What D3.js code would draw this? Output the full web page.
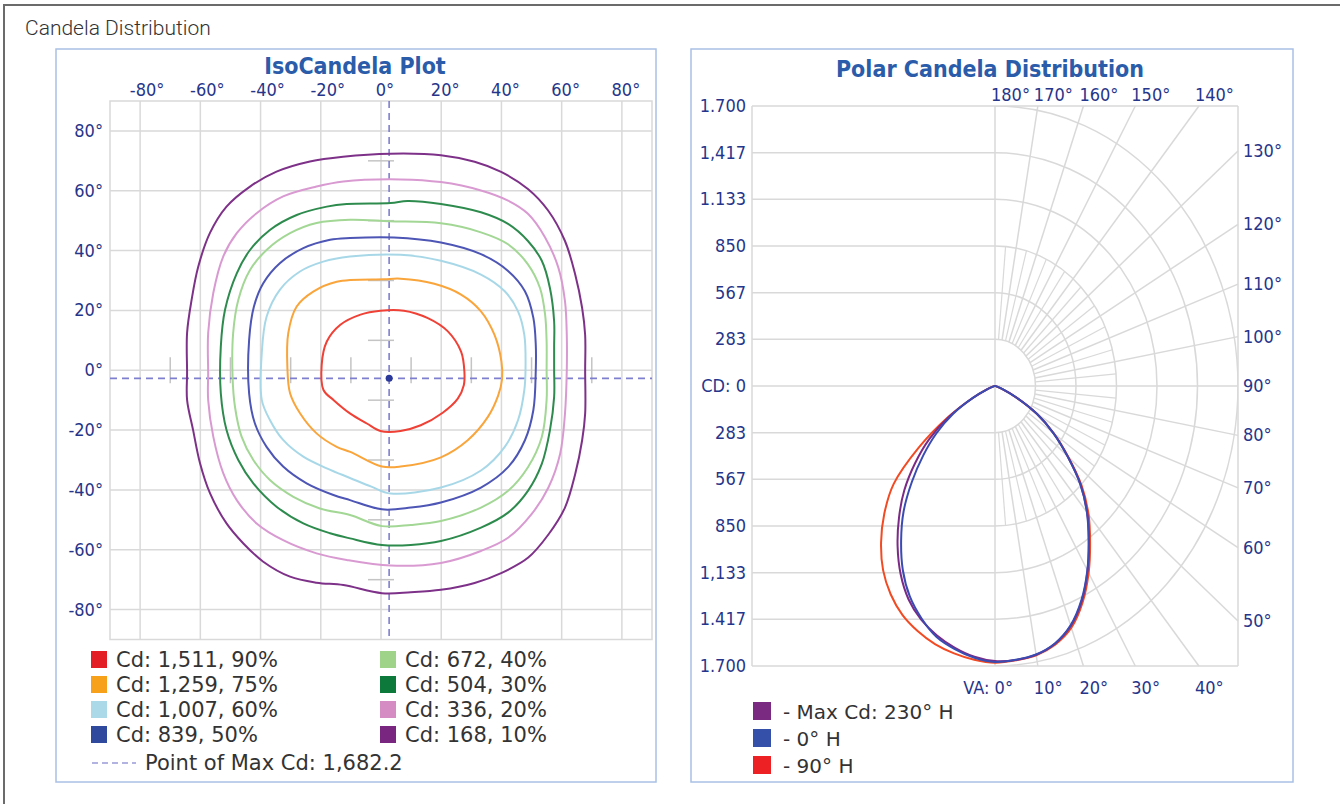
<!DOCTYPE html>
<html>
<head>
<meta charset="utf-8">
<script src="https://cdn.jsdelivr.net/npm/d3@7/dist/d3.min.js"></script>
<style>
body { margin: 0; background: #fff; }
</style>
</head>
<body>
<script>

// ---------- IsoCandela data (horizontal deg, vertical deg) ----------
var isoTicks = [-80, -60, -40, -20, 0, 20, 40, 60, 80];
var isoAxisMarks = [-70, -50, -30, -10, 10, 30, 50, 70];
var maxPoint = [2.7, -2.7];

var isoLabels = ["Cd: 1,511, 90%", "Cd: 1,259, 75%", "Cd: 1,007, 60%", "Cd: 839, 50%",
                 "Cd: 672, 40%", "Cd: 504, 30%", "Cd: 336, 20%", "Cd: 168, 10%"];
var maxLabel = "Point of Max Cd: 1,682.2";

var iso90 = [[27.7,-0.5],[26.6,6.2],[22.2,13],[15.4,17.5],[7.6,19.9],[-0.2,19.9],[-6.8,18.6],[-13.5,15.2],[-18,9.6],[-19.7,1.8],
             [-19.1,-6.6],[-15.7,-10],[-10.2,-14.5],[-4.7,-17.8],[-0.2,-20.3],[6.5,-20.3],[13.2,-18.4],[20.5,-14.2],[25.5,-9.5],[27.5,-5]];
var iso75 = [[40,2.9],[37.7,11.8],[33.2,19.7],[26.6,25.3],[17.7,28.9],[6.5,30.6],[1,30.4],[-14.7,29.6],[-22.5,26.3],[-28,21.3],
             [-30.8,12.4],[-31.1,1.2],[-30.2,-7.7],[-26.9,-14.4],[-21.4,-21.1],[-14.7,-25.6],[-10.2,-27.3],[0.3,-32.2],[6.5,-32.2],
             [19.9,-29.1],[28.8,-23.4],[35.5,-15.6],[38.9,-8.5],[40.2,-3]];
var iso60 = [[48,0.6],[47.6,11.8],[45.5,19.7],[41.1,26.4],[33.2,32],[19.9,36.6],[6.5,38.6],[-10.3,38],[-19.2,36.3],[-26.9,33],
             [-33.6,26.9],[-38,17.9],[-39.6,5.7],[-39.6,-9.9],[-36.9,-16.6],[-32.5,-23.3],[-25.8,-28.9],[-18,-32.8],[-10.3,-36],
             [-3,-39],[3.2,-41.2],[19.9,-39.2],[33.2,-33.5],[41.1,-25.6],[45.5,-16.7],[47.6,-6.6]];
var iso50 = [[51.4,0],[51.4,8.5],[50.6,17.5],[47.8,26.4],[42.2,33.2],[33.2,38.8],[19.9,42.7],[4.3,44.4],[-10.3,44.2],[-16.9,43.6],
             [-25.8,40.8],[-33.6,35.8],[-39.1,29.1],[-42.2,21.3],[-43.8,10.1],[-43.8,-7.7],[-41.9,-17.7],[-38,-25.6],[-32.5,-32.2],
             [-24.7,-37.8],[-15.8,-41.7],[-10.3,-43.4],[0.3,-46.5],[9.9,-45.9],[19.9,-44.2],[33.2,-39.2],[42.2,-32.4],[47.8,-23.4],[50.6,-13.3]];
var iso40 = [[55,0],[55,9.6],[54.5,18.6],[52.8,27.5],[48.8,35.4],[42.2,42.1],[33.2,46.1],[19.9,49.1],[2.7,49.8],[-10.3,50.3],
             [-21.4,49.2],[-30.2,45.8],[-38,40.2],[-43.5,33.5],[-47.4,23.5],[-49.1,12.4],[-49.3,-2.1],[-48.5,-12.2],[-46.3,-22.2],
             [-42.4,-30],[-36.9,-36.7],[-29.1,-42.3],[-20.3,-46.2],[-10.3,-48.4],[0.3,-52.1],[9.9,-51.7],[19.9,-50.4],[33.2,-45.9],
             [42.2,-40.3],[48.8,-32.4],[53.4,-22.3],[55,-9.9]];
var iso30 = [[57.5,0],[57.5,8],[57.5,16.3],[56.1,27.5],[53.4,36.6],[48.8,43.2],[42.2,48.9],[33.2,52.8],[19.9,55.6],[8.8,56.6],
             [3.2,55.9],[-11.4,55.6],[-18,54.7],[-28,51.9],[-36.9,46.9],[-43.5,40.2],[-47.9,32.4],[-51.8,20.2],[-53.2,7.9],[-53.2,-7.7],
             [-51.3,-20],[-47.4,-30],[-42.4,-37.8],[-34.7,-45.6],[-25.8,-51.2],[-16.9,-54.5],[-10.3,-56.2],[0.3,-58.4],[9.9,-58.4],
             [19.9,-57.1],[33.2,-52.6],[42.2,-47.6],[48.8,-40.3],[53.4,-31.3],[56.1,-20.1],[57.5,-8.9]];
var iso20 = [[61.7,0],[61.7,11.8],[61.1,23.1],[58.9,34.3],[54.5,44.4],[48.8,52.3],[42.2,56.7],[33.2,60.1],[19.9,62.9],[6.5,63.8],
             [-12.5,63.1],[-21.4,61.4],[-32.5,58.1],[-41.3,52.5],[-47.9,45.8],[-52.4,38],[-55.7,25.8],[-57.4,12.4],[-57.4,-1],[-57.4,-9.9],
             [-55.7,-22.2],[-52.4,-34.4],[-47.9,-43.4],[-41.3,-51.2],[-32.5,-56.8],[-21.4,-61.2],[-11.4,-63.4],[3.2,-65.3],[19.9,-64.4],
             [33.2,-60.4],[42.2,-56],[50,-48.1],[55.6,-39.2],[59.5,-27.9],[61.1,-14.5]];
var iso10 = [[67.8,0],[67.8,11.8],[66.8,20.8],[64.5,32],[61.1,43.2],[55.5,53.4],[48.8,60.6],[39.9,66.3],[31.1,69.7],[19.9,71.9],
             [3.2,72.4],[-12.6,71.4],[-23.6,69.8],[-34.7,66.4],[-43.5,61.4],[-51.3,54.7],[-56.8,45.9],[-60.7,34.6],[-62.9,23.5],[-64.4,12.5],
             [-64.4,-0.9],[-64.4,-9.9],[-62.4,-20],[-60.1,-31.1],[-56.8,-41.1],[-51.3,-51.2],[-45.7,-57.9],[-39.1,-64],[-30.2,-69],
             [-21.4,-71],[-12.5,-71.8],[0.3,-74.5],[9.9,-74.2],[19.9,-73.4],[31.1,-71.1],[39.9,-67.8],[48.8,-62.7],[55.6,-54.9],
             [61.1,-45.9],[64.5,-34.7],[66.8,-23.4],[67.8,-14.5]];
var isoContours = [iso90, iso75, iso60, iso50, iso40, iso30, iso20, iso10];

// ---------- Polar data (candela at vertical angles) ----------
var verticalAngles = [0, 5, 10, 15, 20, 25, 30, 35, 40, 45, 50, 55, 60, 65, 70, 75, 80, 85, 90];
var cdMaxLeft  = [1670,1650,1614,1568,1510,1430,1320,1188,1045,898,730,560,365,172,58,16,5,1,0];
var cdMaxRight = [1676,1670,1657,1620,1550,1438,1295,1145,1003,846,662,500,340,166,56,15,5,1,0];
var cd0Left    = [1675,1656,1622,1578,1502,1410,1290,1145,995,822,655,500,340,168,57,15,4,1,0];
var cd0Right   = [1676,1668,1655,1618,1546,1432,1292,1142,1000,844,660,498,338,165,55,15,5,1,0];
var cd90Left   = [1680,1668,1648,1622,1583,1533,1460,1365,1240,1095,925,650,385,172,60,16,5,1,0];
var cd90Right  = [1678,1672,1660,1626,1562,1450,1310,1160,1018,858,668,502,340,166,56,15,5,1,0];
var polarNames = ["- Max Cd: 230\u00b0 H", "- 0\u00b0 H", "- 90\u00b0 H"];

var polarAxisValues = [1700, 1416.7, 1133.3, 850, 566.7, 283.3, 0, -283.3, -566.7, -850, -1133.3, -1416.7, -1700];
var polarAxisLabels = ["1.700", "1,417", "1.133", "850", "567", "283", "CD: 0", "283", "567", "850", "1,133", "1.417", "1.700"];
var polarRings = [283.3, 566.7, 850, 1133.3, 1416.7, 1700];
var polarSpokes = [10, 20, 30, 40, 50, 60, 70, 80, 100, 110, 120, 130, 140, 150, 160, 170];
var polarShortSpokes = [5, 15, 25, 35, 45, 55, 65, 75, 85, 95, 105, 115, 125, 135, 145, 155, 165, 175];
var polarAngleLabels = [0, 10, 20, 30, 40, 50, 60, 70, 80, 90, 100, 110, 120, 130, 140, 150, 160, 170, 180];

// ---------- styles ----------
var isoLineColors = ["#ef4136", "#f9a53b", "#a8d8e8", "#4d55b5", "#a3d795", "#2e8b4e", "#d99ad2", "#7e3188"];
var isoSwatchColors = ["#e31e24", "#f7a11a", "#acd9e8", "#2f4a9c", "#9fd38a", "#0d7a3b", "#d48cc3", "#78267f"];
var polarLineColors = ["#7b2a85", "#3a4cb2", "#f24a22"];
var polarSwatchColors = ["#7a2a80", "#3450a8", "#ed2024"];

var tickFont = "'DejaVu Sans Condensed', 'DejaVu Sans', sans-serif";
var tickColor = "#26358a";
var gridColor = "#d9d9d9";
var titleColor = "#2a5caa";

var svg = d3.select("body").append("svg")
            .attr("width", 1340)
            .attr("height", 804);

// Outer frame and caption
svg.append("rect")
   .attr("x", 4).attr("y", 5)
   .attr("width", 1360).attr("height", 820)
   .attr("fill", "none")
   .attr("stroke", "#6b6b6b")
   .attr("stroke-width", 2);

svg.append("text")
   .attr("x", 25).attr("y", 35)
   .attr("font-family", "Roboto, 'Liberation Sans', sans-serif")
   .attr("font-weight", 300)
   .attr("font-size", 21)
   .attr("fill", "#333")
   .text("Candela Distribution");

// Panel boxes
svg.append("rect")
   .attr("x", 56).attr("y", 49)
   .attr("width", 600).attr("height", 733)
   .attr("fill", "none")
   .attr("stroke", "#a9c0e6")
   .attr("stroke-width", 1.5);

svg.append("rect")
   .attr("x", 691).attr("y", 49)
   .attr("width", 602).attr("height", 733)
   .attr("fill", "none")
   .attr("stroke", "#a9c0e6")
   .attr("stroke-width", 1.5);

// =================== IsoCandela plot ===================
var isoX = d3.scaleLinear().domain([-90, 90]).range([110, 652]);
var isoY = d3.scaleLinear().domain([-90, 90]).range([639.5, 101]);

var iso = svg.append("g");

iso.append("text")
   .attr("x", 355).attr("y", 74)
   .attr("text-anchor", "middle")
   .attr("font-family", tickFont)
   .attr("font-weight", "bold")
   .attr("font-size", 23)
   .attr("fill", titleColor)
   .text("IsoCandela Plot");

// grid frame
iso.append("rect")
   .attr("x", isoX(-90)).attr("y", isoY(90))
   .attr("width", isoX(90) - isoX(-90))
   .attr("height", isoY(-90) - isoY(90))
   .attr("fill", "none")
   .attr("stroke", gridColor)
   .attr("stroke-width", 1.5);

// vertical grid
iso.selectAll(".vgrid").data(isoTicks).enter().append("line")
   .attr("x1", function(d) { return isoX(d); })
   .attr("x2", function(d) { return isoX(d); })
   .attr("y1", isoY(90)).attr("y2", isoY(-90))
   .attr("stroke", gridColor)
   .attr("stroke-width", 1.5);

// horizontal grid
iso.selectAll(".hgrid").data(isoTicks).enter().append("line")
   .attr("y1", function(d) { return isoY(d); })
   .attr("y2", function(d) { return isoY(d); })
   .attr("x1", isoX(-90)).attr("x2", isoX(90))
   .attr("stroke", gridColor)
   .attr("stroke-width", 1.5);

// small tick marks across the 0 axes
iso.selectAll(".xmark").data(isoAxisMarks).enter().append("line")
   .attr("x1", function(d) { return isoX(d); })
   .attr("x2", function(d) { return isoX(d); })
   .attr("y1", isoY(0) - 13).attr("y2", isoY(0) + 13)
   .attr("stroke", "#c4c4c4")
   .attr("stroke-width", 1.5);

iso.selectAll(".ymark").data(isoAxisMarks).enter().append("line")
   .attr("y1", function(d) { return isoY(d); })
   .attr("y2", function(d) { return isoY(d); })
   .attr("x1", isoX(0) - 13).attr("x2", isoX(0) + 13)
   .attr("stroke", "#c4c4c4")
   .attr("stroke-width", 1.5);

// tick labels
iso.selectAll(".xlab").data(isoTicks).enter().append("text")
   .attr("x", function(d) { return isoX(d) + (d < 0 ? 7 : 4); })
   .attr("y", 96)
   .attr("text-anchor", "middle")
   .attr("font-family", tickFont)
   .attr("font-size", 18)
   .attr("fill", tickColor)
   .text(function(d) { return d + "\u00b0"; });

iso.selectAll(".ylab").data(isoTicks).enter().append("text")
   .attr("x", 103)
   .attr("y", function(d) { return isoY(d) + 6; })
   .attr("text-anchor", "end")
   .attr("font-family", tickFont)
   .attr("font-size", 18)
   .attr("fill", tickColor)
   .text(function(d) { return d + "\u00b0"; });

// point of max crosshair
iso.append("line")
   .attr("x1", isoX(-90)).attr("x2", isoX(90))
   .attr("y1", isoY(maxPoint[1])).attr("y2", isoY(maxPoint[1]))
   .attr("stroke", "#7f7fd0")
   .attr("stroke-width", 1.6)
   .attr("stroke-dasharray", "7 5");

iso.append("line")
   .attr("x1", isoX(maxPoint[0])).attr("x2", isoX(maxPoint[0]))
   .attr("y1", isoY(90)).attr("y2", isoY(-90))
   .attr("stroke", "#7f7fd0")
   .attr("stroke-width", 1.6)
   .attr("stroke-dasharray", "7 5");

// contours
var contourLine = d3.line()
                    .x(function(d) { return isoX(d[0]); })
                    .y(function(d) { return isoY(d[1]); })
                    .curve(d3.curveCatmullRomClosed.alpha(0.5));

iso.selectAll(".contour").data(isoContours).enter().append("path")
   .attr("d", contourLine)
   .attr("fill", "none")
   .attr("stroke", function(d, i) { return isoLineColors[i]; })
   .attr("stroke-width", 2);

iso.append("circle")
   .attr("cx", isoX(maxPoint[0]))
   .attr("cy", isoY(maxPoint[1]))
   .attr("r", 3.5)
   .attr("fill", "#2b3a9a");

// legend
var isoLegend = iso.selectAll(".leg").data(isoLabels).enter().append("g")
                   .attr("transform", function(d, i) {
                       return "translate(" + (i < 4 ? 91 : 380) + "," + (651 + (i % 4) * 25) + ")";
                   });

isoLegend.append("rect")
   .attr("width", 16).attr("height", 17)
   .attr("fill", function(d, i) { return isoSwatchColors[i]; });

isoLegend.append("text")
   .attr("x", 25).attr("y", 16)
   .attr("font-family", "'DejaVu Sans', sans-serif")
   .attr("font-size", 21)
   .attr("fill", "#333")
   .text(function(d) { return d; });

iso.append("line")
   .attr("x1", 92).attr("x2", 136)
   .attr("y1", 763).attr("y2", 763)
   .attr("stroke", "#9a9ad8")
   .attr("stroke-width", 1.5)
   .attr("stroke-dasharray", "6 4");

iso.append("text")
   .attr("x", 145).attr("y", 770)
   .attr("font-family", "'DejaVu Sans', sans-serif")
   .attr("font-size", 21)
   .attr("fill", "#333")
   .text(maxLabel);

// =================== Polar plot ===================
var polarX = d3.scaleLinear().domain([-1700, 1700]).range([752, 1238]);
var polarY = d3.scaleLinear().domain([-1700, 1700]).range([666, 106]);
var cx = polarX(0), cy = polarY(0);

var pol = svg.append("g");

pol.append("text")
   .attr("x", 990).attr("y", 77)
   .attr("text-anchor", "middle")
   .attr("font-family", tickFont)
   .attr("font-weight", "bold")
   .attr("font-size", 23)
   .attr("fill", titleColor)
   .text("Polar Candela Distribution");

pol.append("clipPath").attr("id", "rightHalf")
   .append("rect")
   .attr("x", cx).attr("y", polarY(1700))
   .attr("width", polarX(1700) - cx)
   .attr("height", polarY(-1700) - polarY(1700));

// left half horizontal lines
pol.selectAll(".phgrid").data(polarAxisValues).enter().append("line")
   .attr("x1", polarX(-1700))
   .attr("x2", function(d) { return (d === 0 || Math.abs(d) === 1700) ? polarX(1700) : cx; })
   .attr("y1", function(d) { return polarY(d); })
   .attr("y2", function(d) { return polarY(d); })
   .attr("stroke", gridColor)
   .attr("stroke-width", 1.5);

// frame sides and centre line
[-1700, 0, 1700].forEach(function(v) {
    pol.append("line")
       .attr("x1", polarX(v)).attr("x2", polarX(v))
       .attr("y1", polarY(1700)).attr("y2", polarY(-1700))
       .attr("stroke", gridColor)
       .attr("stroke-width", 1.5);
});

// rings (right half only)
pol.selectAll(".ring").data(polarRings).enter().append("ellipse")
   .attr("cx", cx).attr("cy", cy)
   .attr("rx", function(d) { return polarX(d) - cx; })
   .attr("ry", function(d) { return cy - polarY(d); })
   .attr("fill", "none")
   .attr("stroke", gridColor)
   .attr("stroke-width", 1.5)
   .attr("clip-path", "url(#rightHalf)");

// spokes: from first ring to the frame
function edgePoint(a, r) {
    var rad = a * Math.PI / 180;
    var s = Math.sin(rad), c = -Math.cos(rad);
    var t = r === undefined ? 1700 / Math.max(Math.abs(s), Math.abs(c)) : r;
    return [s * t, c * t];
}

pol.selectAll(".spoke").data(polarSpokes).enter().append("line")
   .attr("x1", function(d) { return polarX(edgePoint(d, polarRings[0])[0]); })
   .attr("y1", function(d) { return polarY(edgePoint(d, polarRings[0])[1]); })
   .attr("x2", function(d) { return polarX(edgePoint(d)[0]); })
   .attr("y2", function(d) { return polarY(edgePoint(d)[1]); })
   .attr("stroke", gridColor)
   .attr("stroke-width", 1.5);

// intermediate spokes run only to the third ring
pol.selectAll(".sspoke").data(polarShortSpokes).enter().append("line")
   .attr("x1", function(d) { return polarX(edgePoint(d, polarRings[0])[0]); })
   .attr("y1", function(d) { return polarY(edgePoint(d, polarRings[0])[1]); })
   .attr("x2", function(d) { return polarX(edgePoint(d, polarRings[2])[0]); })
   .attr("y2", function(d) { return polarY(edgePoint(d, polarRings[2])[1]); })
   .attr("stroke", gridColor)
   .attr("stroke-width", 1.2);

// vertical axis labels
pol.selectAll(".pylab").data(polarAxisValues).enter().append("text")
   .attr("x", 746)
   .attr("y", function(d) { return polarY(d) + 6; })
   .attr("text-anchor", "end")
   .attr("font-family", tickFont)
   .attr("font-size", 18)
   .attr("fill", tickColor)
   .text(function(d, i) { return polarAxisLabels[i]; });

// angle labels
pol.selectAll(".palab").data(polarAngleLabels).enter().append("text")
   .attr("x", function(d) {
       if (d >= 50 && d <= 130) return 1243;
       if (d === 0) return cx + 18;
       return polarX(edgePoint(d)[0]) - 4;
   })
   .attr("y", function(d) {
       if (d >= 50 && d <= 130) return polarY(edgePoint(d)[1]) + 6;
       return d < 90 ? 694 : 101;
   })
   .attr("text-anchor", function(d) { return d === 0 ? "end" : "start"; })
   .attr("font-family", tickFont)
   .attr("font-size", 18)
   .attr("fill", tickColor)
   .text(function(d) { return (d === 0 ? "VA: " : "") + d + "\u00b0"; });

// distribution curves: left plane from 90 down to 0, right plane from 0 up to 90
function curvePoints(left, right) {
    var pts = [];
    for (var i = verticalAngles.length - 1; i >= 0; i--) {
        var p = edgePoint(verticalAngles[i], left[i]);
        pts.push([-p[0], p[1]]);
    }
    for (var j = 1; j < verticalAngles.length; j++) {
        pts.push(edgePoint(verticalAngles[j], right[j]));
    }
    return pts;
}

var polarSeries = [curvePoints(cdMaxLeft, cdMaxRight), curvePoints(cd0Left, cd0Right), curvePoints(cd90Left, cd90Right)];

var polarLine = d3.line()
                  .x(function(d) { return polarX(d[0]); })
                  .y(function(d) { return polarY(d[1]); })
                  .curve(d3.curveCatmullRom.alpha(0.5));

// red first, then purple, blue on top
[2, 0, 1].forEach(function(k) {
    pol.append("path")
       .attr("d", polarLine(polarSeries[k]))
       .attr("fill", "none")
       .attr("stroke", polarLineColors[k])
       .attr("stroke-width", 2);
});

// legend
var polLegend = pol.selectAll(".pleg").data(polarNames).enter().append("g")
                   .attr("transform", function(d, i) { return "translate(753," + (702 + i * 27) + ")"; });

polLegend.append("rect")
   .attr("width", 18).attr("height", 18)
   .attr("fill", function(d, i) { return polarSwatchColors[i]; });

polLegend.append("text")
   .attr("x", 30).attr("y", 17)
   .attr("font-family", "'DejaVu Sans', sans-serif")
   .attr("font-size", 20)
   .attr("fill", "#333")
   .text(function(d) { return d; });

</script>
</body>
</html>
